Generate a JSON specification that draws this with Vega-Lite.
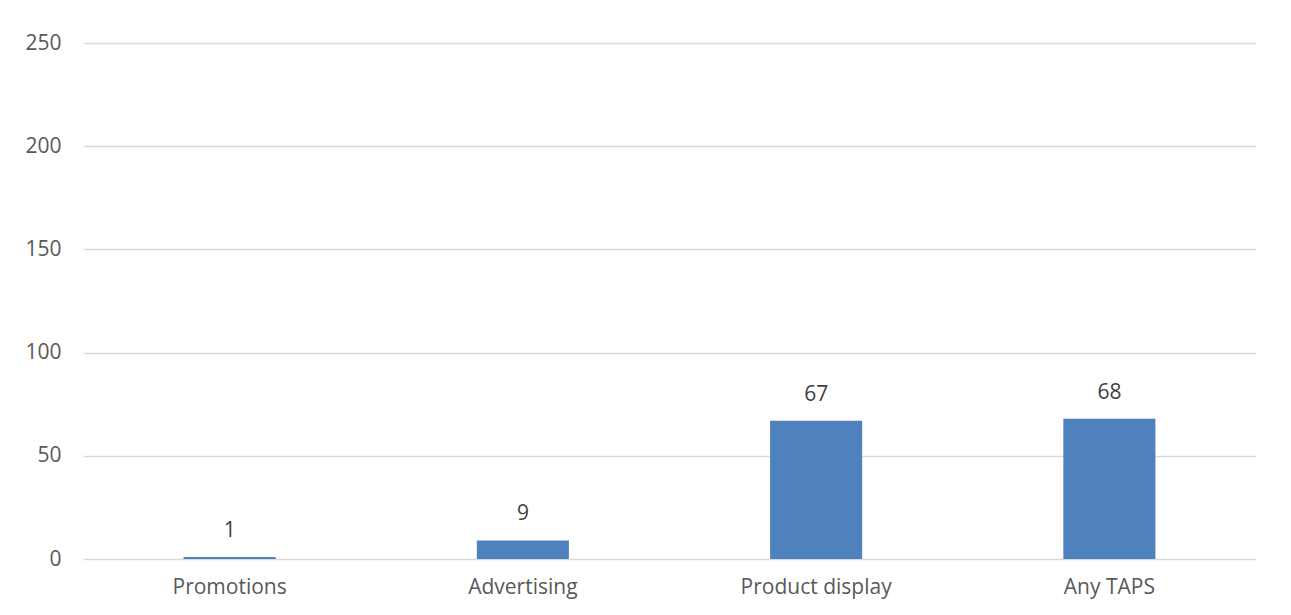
{
  "$schema": "https://vega.github.io/schema/vega-lite/v6.json",
  "width": 1173,
  "height": 516,
  "autosize": "none",
  "padding": {"left": 83, "top": 43, "right": 35, "bottom": 56},
  "background": "white",
  "config": {"view": {"stroke": null}, "font": "Open Sans"},
  "data": {"values": [
    {"category": "Promotions", "value": 1},
    {"category": "Advertising", "value": 9},
    {"category": "Product display", "value": 67},
    {"category": "Any TAPS", "value": 68}
  ]},
  "encoding": {
    "x": {"field": "category", "type": "nominal", "sort": null,
      "scale": {"paddingInner": 0.686, "paddingOuter": 0.343},
      "axis": {"title": null, "labelAngle": 0, "domain": false, "ticks": false, "labelPadding": 17, "labelFontSize": 21, "labelColor": "#595959", "labelFont": "Open Sans"}},
    "y": {"field": "value", "type": "quantitative",
      "scale": {"domain": [0, 250]},
      "axis": {"title": null, "values": [0, 50, 100, 150, 200, 250], "domain": false, "ticks": false, "labelPadding": 22, "labelFontSize": 21, "labelColor": "#595959", "gridColor": "#d9d9d9", "gridWidth": 1.3, "labelFont": "Open Sans"}}
  },
  "layer": [
    {"mark": {"type": "bar", "color": "#4F81BD"}},
    {"mark": {"type": "text", "baseline": "alphabetic", "dy": -20, "fontSize": 21, "color": "#404040"},
     "encoding": {"text": {"field": "value", "type": "quantitative"}}}
  ]
}
